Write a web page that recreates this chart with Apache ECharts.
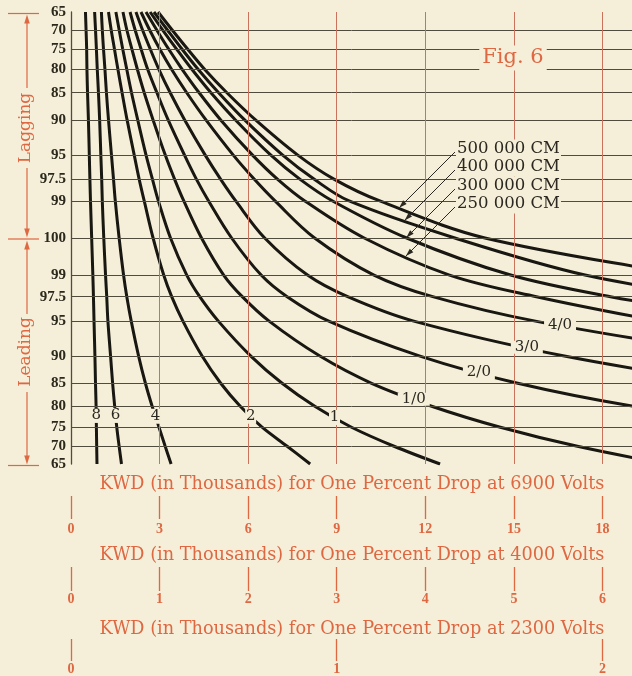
<!DOCTYPE html>
<html>
<head>
<meta charset="utf-8">
<script src="https://cdn.jsdelivr.net/npm/echarts@6.0.0/dist/echarts.min.js"></script>
<style>
html,body{margin:0;padding:0;background:#f5eed8;}
#chart{width:632px;height:676px;}
</style>
</head>
<body>
<div id="chart"></div>
<script>
// Power-factor rows (top: lagging 65 ... unity ... bottom: leading 65)
const rowPf   = [65,70,75,80,85,90,95,97.5,99,100,99,97.5,95,90,85,80,75,70,65];
const rowSide = [1,1,1,1,1,1,1,1,1,0,-1,-1,-1,-1,-1,-1,-1,-1,-1]; // +1 lagging, -1 leading

const conductors = ['8','6','4','2','1','1/0','2/0','3/0','4/0','250 000 CM','300 000 CM','400 000 CM','500 000 CM'];

// KWD (thousands, 6900 V scale) where each curve crosses each power-factor row
const kwd_8   = [0.49,0.51,0.53,0.54,0.56,0.59,0.62,0.64,0.66,0.70,0.74,0.76,0.78,0.81,0.83,0.85,0.86,0.87,0.88];
const kwd_6   = [0.80,0.83,0.86,0.89,0.93,0.97,1.01,1.04,1.06,1.11,1.17,1.21,1.25,1.34,1.41,1.48,1.55,1.63,1.71];
const kwd_4   = [1.03,1.06,1.10,1.15,1.20,1.27,1.37,1.44,1.50,1.63,1.78,1.89,2.04,2.29,2.52,2.75,2.98,3.19,3.39];
const kwd_2   = [1.27,1.36,1.47,1.59,1.73,1.90,2.14,2.31,2.48,2.78,3.14,3.41,3.79,4.44,5.07,5.74,6.47,7.32,8.10];
const kwd_1   = [1.52,1.63,1.75,1.89,2.05,2.26,2.54,2.76,2.96,3.37,3.92,4.36,4.99,6.09,7.15,8.27,9.50,10.94,12.50];
const kwd_1_0 = [1.76,1.89,2.06,2.25,2.48,2.78,3.19,3.51,3.82,4.42,5.17,5.80,6.71,8.43,10.18,12.24,14.54,17.15,20.17];
const kwd_2_0 = [2.00,2.17,2.37,2.60,2.91,3.29,3.84,4.25,4.66,5.44,6.44,7.32,8.73,11.82,15.13,19.08,23.94,null,null];
const kwd_3_0 = [2.20,2.42,2.68,2.98,3.36,3.85,4.54,5.07,5.58,6.56,8.01,9.37,11.61,16.71,22.23,null,null,null,null];
const kwd_4_0 = [2.37,2.66,3.00,3.41,3.92,4.57,5.49,6.21,6.91,8.25,10.26,12.25,15.73,22.84,null,null,null,null,null];
const kwd_250 = [2.54,2.90,3.30,3.77,4.34,5.07,6.14,7.00,7.92,9.93,12.82,15.76,19.91,null,null,null,null,null,null];
const kwd_300 = [2.68,3.10,3.57,4.10,4.74,5.57,6.76,7.76,8.86,11.37,14.89,18.27,23.25,null,null,null,null,null,null];
const kwd_400 = [2.81,3.26,3.75,4.31,5.00,5.88,7.16,8.24,9.42,13.00,17.41,21.81,null,null,null,null,null,null,null];
const kwd_500 = [2.95,3.42,3.94,4.53,5.28,6.25,7.67,8.92,10.46,14.02,20.93,null,null,null,null,null,null,null,null];

// Leading power factor at which each in-line curve label sits
const labelPfLeading = [77.9,77.9,77.7,77.7,77.4,81.6,87.1,91.4,94.5];

// Bottom scales
const ticks6900 = [0,3,6,9,12,15,18];
const ticks4000 = [0,1,2,3,4,5,6];
const ticks2300 = [0,1,2];
const scaleTitles = [
  'KWD (in Thousands) for One Percent Drop at 6900 Volts',
  'KWD (in Thousands) for One Percent Drop at 4000 Volts',
  'KWD (in Thousands) for One Percent Drop at 2300 Volts'
];
const redGridValues = [3,6,9,12,15,18];

const BG = '#f5eed8', INK = '#181711', GRIDC = '#4f4c3d', REDC = '#c9735c', ORANGE = '#de6842';
const SERIF = "'DejaVu Serif', serif";
const SERIFB = "'Liberation Serif', serif";
const DEG = 180 / Math.PI;
const rowAngle = rowPf.map((p, i) => rowSide[i] * Math.acos(p / 100) * DEG);
const maxAng = Math.acos(0.65) * DEG;
const curves = [kwd_8,kwd_6,kwd_4,kwd_2,kwd_1,kwd_1_0,kwd_2_0,kwd_3_0,kwd_4_0,kwd_250,kwd_300,kwd_400,kwd_500];

function pts(arr) {
  const out = [];
  arr.forEach((v, i) => { if (v != null) out.push([v, rowAngle[i]]); });
  return out;
}
function xAt(arr, ang) {
  for (let i = 0; i < arr.length - 1; i++) {
    const a0 = rowAngle[i], a1 = rowAngle[i + 1];
    if (ang <= a0 && ang >= a1 && arr[i] != null && arr[i + 1] != null) {
      return arr[i] + (arr[i + 1] - arr[i]) * (a0 - ang) / (a0 - a1);
    }
  }
  return null;
}

const chart = echarts.init(document.getElementById('chart'));

const series = [];
// grid lines
series.push({
  type: 'line', data: [], z: 1, silent: true, animation: false,
  markLine: {
    silent: true, animation: false, symbol: ['none', 'none'], label: {show: false},
    data: rowAngle.map(a => ({yAxis: a, lineStyle: {color: GRIDC, width: 1, type: 'solid'}}))
      .concat(redGridValues.map(v => ({xAxis: v, lineStyle: {color: REDC, width: 1, type: 'solid'}})))
  }
});
curves.forEach((arr, ci) => {
  const s = {
    type: 'line', name: conductors[ci], data: pts(arr), smooth: 0.35,
    symbol: 'none', lineStyle: {color: INK, width: 3}, z: 3, silent: true, animation: false,
    clip: true
  };
  if (ci < labelPfLeading.length) {
    const ang = -Math.acos(labelPfLeading[ci] / 100) * DEG;
    const txt = conductors[ci];
    s.markPoint = {
      silent: true, animation: false, symbol: 'rect',
      symbolSize: [txt.length > 1 ? 32 : 11, txt.length > 1 ? 13 : 15],
      itemStyle: {color: BG},
      label: {show: true, position: 'inside', formatter: txt, color: '#2a2820', fontSize: 15, fontFamily: SERIF},
      data: [{coord: [xAt(arr, ang), ang]}]
    };
  }
  series.push(s);
});

function scaleAxis(max, ticks, offset, len, margin) {
  return {
    type: 'value', gridIndex: 0, position: 'bottom', min: 0, max: max, offset: offset,
    axisLine: {show: false}, splitLine: {show: false},
    axisTick: {show: true, customValues: ticks, length: len, lineStyle: {color: ORANGE, width: 1.3}},
    axisLabel: {show: true, customValues: ticks, color: ORANGE, fontWeight: 'bold', fontSize: 14,
      fontFamily: SERIFB, margin: margin, showMinLabel: true, showMaxLabel: true}
  };
}

chart.setOption({
  backgroundColor: BG,
  animation: false,
  grid: {left: 71, top: 12, width: 561, height: 453, containLabel: false},
  xAxis: [
    {type: 'value', gridIndex: 0, min: 0, max: 19, show: false},
    scaleAxis(19, ticks6900, 32, 23, 26),
    scaleAxis(19 / 3, ticks4000, 103, 24, 25),
    scaleAxis(19 / 9, ticks2300, 175, 22, 23)
  ],
  yAxis: {
    type: 'value', min: -maxAng, max: maxAng,
    axisLine: {show: true, lineStyle: {color: GRIDC, width: 1.3}},
    axisTick: {show: false}, splitLine: {show: false},
    axisLabel: {
      show: true, customValues: rowAngle, margin: 5, color: '#2b291d', fontWeight: 'bold', fontSize: 15,
      fontFamily: SERIFB, showMinLabel: true, showMaxLabel: true,
      formatter: v => {
        let best = 0, bd = 1e9;
        rowAngle.forEach((a, i) => { const d = Math.abs(a - v); if (d < bd) { bd = d; best = i; } });
        return String(rowPf[best]);
      }
    }
  },
  series: series
});

// ---- annotations ----
function arrowHead(tip, from, len, half, color) {
  const dx = tip[0] - from[0], dy = tip[1] - from[1];
  const L = Math.hypot(dx, dy); const ux = dx / L, uy = dy / L;
  const bx = tip[0] - ux * len, by = tip[1] - uy * len;
  return {type: 'polygon', silent: true, z: 20,
    shape: {points: [tip, [bx - uy * half, by + ux * half], [bx + uy * half, by - ux * half]]},
    style: {fill: color}};
}
function seg(x1, y1, x2, y2, color, w) {
  return {type: 'line', silent: true, z: 20, shape: {x1, y1, x2, y2}, style: {stroke: color, lineWidth: w || 1.2}};
}
// where a 45-degree leader from `start` meets a curve (through the chart's own scales)
function leaderTip(arr, start) {
  const P = pts(arr).map(p => chart.convertToPixel({xAxisIndex: 0, yAxisIndex: 0}, p));
  for (let i = 0; i < P.length - 1; i++) {
    const [x1, y1] = P[i], [x2, y2] = P[i + 1];
    const dx = x2 - x1, dy = y2 - y1;
    const s = (start[0] + start[1] - x1 - y1) / (dx + dy);
    if (s >= 0 && s <= 1) return [x1 + s * dx, y1 + s * dy];
  }
  return [start[0] - 55, start[1] + 55];
}

const graphic = [];
[484, 555, 629].forEach((y, i) => {
  graphic.push({type: 'text', silent: true, z: 20, x: 352, y: y,
    style: {text: scaleTitles[i], fill: ORANGE, font: "17.7px 'DejaVu Serif'", align: 'center', verticalAlign: 'middle'}});
});
graphic.push(seg(8, 13.5, 39, 13.5, ORANGE), seg(8, 239, 39, 239, ORANGE), seg(8, 465.5, 39, 465.5, ORANGE));
graphic.push(seg(27, 18, 27, 88, ORANGE), seg(27, 168, 27, 232, ORANGE));
graphic.push(seg(27, 246, 27, 314, ORANGE), seg(27, 392, 27, 460, ORANGE));
graphic.push(arrowHead([27, 14.5], [27, 30], 9, 2.8, ORANGE), arrowHead([27, 237.5], [27, 220], 9, 2.8, ORANGE));
graphic.push(arrowHead([27, 240.5], [27, 260], 9, 2.8, ORANGE), arrowHead([27, 464.5], [27, 440], 9, 2.8, ORANGE));
graphic.push({type: 'text', silent: true, z: 20, x: 26, y: 128, rotation: Math.PI / 2,
  style: {text: 'Lagging', fill: ORANGE, font: "17px 'DejaVu Serif'", align: 'center', verticalAlign: 'middle'}});
graphic.push({type: 'text', silent: true, z: 20, x: 26, y: 352, rotation: Math.PI / 2,
  style: {text: 'Leading', fill: ORANGE, font: "17px 'DejaVu Serif'", align: 'center', verticalAlign: 'middle'}});
graphic.push({type: 'text', silent: true, z: 20, x: 513, y: 58,
  style: {text: 'Fig. 6', fill: ORANGE, font: "21px 'DejaVu Serif'", align: 'center', verticalAlign: 'middle',
    backgroundColor: BG, padding: [2, 3]}});
const cmLabelY = [149, 167, 186, 204];
const cmCurveIdx = [12, 11, 10, 9];
cmLabelY.forEach((y, i) => {
  graphic.push({type: 'text', silent: true, z: 21, x: 456, y: y,
    style: {text: conductors[cmCurveIdx[i]], fill: '#2a2820', font: "16.5px 'DejaVu Serif'", align: 'left', verticalAlign: 'middle',
      backgroundColor: BG, padding: [1, 1]}});
  const from = [455, y + 3];
  const tip = leaderTip(curves[cmCurveIdx[i]], from);
  graphic.push(seg(from[0], from[1], tip[0], tip[1], '#2a2820', 1));
  graphic.push(arrowHead(tip, from, 8, 2.5, '#2a2820'));
});
chart.setOption({graphic: graphic});
</script>
</body>
</html>
